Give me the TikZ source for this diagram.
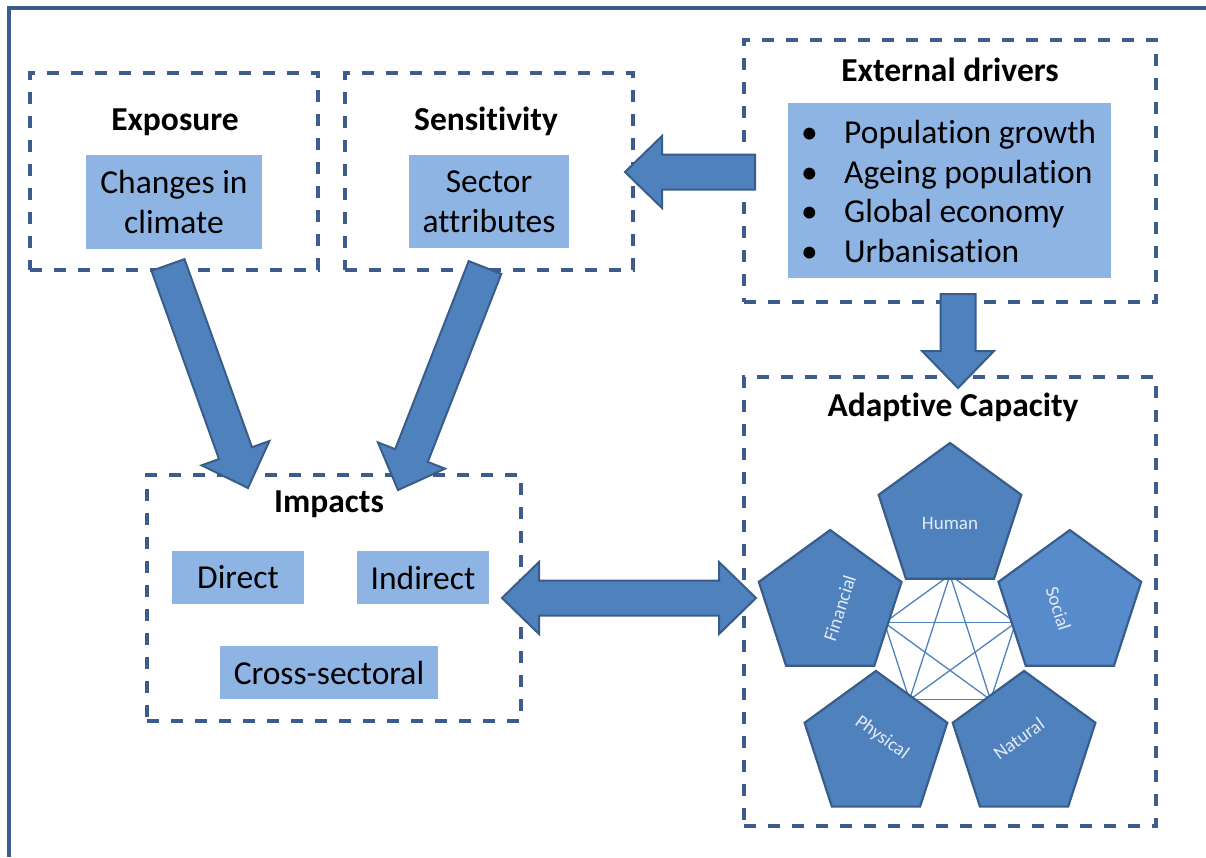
\documentclass[tikz,border=0pt]{standalone}
\usepackage{fontspec}
\setmainfont{Carlito}[Ligatures=CommonOff]
\usetikzlibrary{calc,shapes.geometric}

\definecolor{frameblue}{HTML}{3B5C8C}
\definecolor{boxblue}{HTML}{8EB4E3}
\definecolor{arrowblue}{HTML}{4F81BD}
\definecolor{arrowedge}{HTML}{385D8A}
\definecolor{socialblue}{HTML}{588BCB}
\definecolor{pentext}{HTML}{E2EAF5}

\def\shafthalf{17.5pt}
\def\headhalf{36pt}
\def\headlen{37pt}
% block arrow, tail (#1) to tip (#2)
\def\blockarrow(#1)(#2){
  \coordinate (h) at ($(#2)!\headlen!(#1)$);
  \filldraw[fatarrow] ($(#1)!\shafthalf!90:(#2)$) -- ($(h)!\shafthalf!90:(#2)$) -- ($(h)!\headhalf!90:(#2)$) -- (#2)
    -- ($(h)!\headhalf!-90:(#2)$) -- ($(h)!\shafthalf!-90:(#2)$) -- ($(#1)!\shafthalf!-90:(#2)$) -- cycle;
}
% block arrow with two heads
\def\doublearrow(#1)(#2){
  \coordinate (ha) at ($(#1)!\headlen!(#2)$);
  \coordinate (hb) at ($(#2)!\headlen!(#1)$);
  \filldraw[fatarrow] (#1) -- ($(ha)!\headhalf!90:(#2)$) -- ($(ha)!\shafthalf!90:(#2)$) -- ($(hb)!\shafthalf!90:(#2)$)
    -- ($(hb)!\headhalf!90:(#2)$) -- (#2) -- ($(hb)!\headhalf!-90:(#2)$) -- ($(hb)!\shafthalf!-90:(#2)$)
    -- ($(ha)!\shafthalf!-90:(#2)$) -- ($(ha)!\headhalf!-90:(#2)$) -- cycle;
}

\tikzset{
  dashbox/.style={draw=frameblue, line width=3.2pt, dash pattern=on 12pt off 12pt, inner sep=0pt, outer sep=0pt},
  fillbox/.style={fill=boxblue, inner sep=0pt, align=center, font=\fontsize{33.5}{39.5}\selectfont},
  heading/.style={font=\fontsize{33.5}{39.5}\selectfont\bfseries, inner sep=0pt, anchor=base},
  fatarrow/.style={fill=arrowblue, draw=arrowedge, line width=2pt, line join=miter},
  pent/.style={regular polygon, regular polygon sides=5, minimum size=150pt, inner sep=0pt,
    fill=arrowblue, draw=arrowedge, line width=2.2pt},
  pentlabel/.style={text=pentext, font=\fontsize{19}{23}\selectfont, inner sep=0pt},
  web/.style={draw=arrowblue, line width=1.3pt}
}

\begin{document}
\begin{tikzpicture}[x=1pt, y=-1pt]
		\useasboundingbox (0,0) rectangle (1206,857);
		
		%%%%% frame %%%%%
		\draw[frameblue, line width=3.5pt] (1206,8) -- (9,8) -- (9,857);
		
		%%%%% boxes %%%%%
		\node[dashbox, minimum width=288pt, minimum height=197pt] (expo) at (174,171.5) {};
		\node[dashbox, minimum width=288pt, minimum height=197pt] (sens) at (489,171.5) {};
		\node[dashbox, minimum width=412pt, minimum height=262pt] (drivers) at (950,171) {};
		\node[dashbox, minimum width=374pt, minimum height=246pt] (impacts) at (334,598) {};
		\node[dashbox, minimum width=412pt, minimum height=449pt] (adapt) at (950,601.5) {};
		
		\node[heading] (expo-title) at (175,130) {Exposure};
		\node[heading] (sens-title) at (486,130) {Sensitivity};
		\node[heading] (drivers-title) at (950,81) {External drivers};
		\node[heading] (impacts-title) at (329,512) {Impacts};
		\node[heading] (adapt-title) at (953,416) {Adaptive Capacity};
		
		\node[fillbox, minimum width=176pt, minimum height=94pt] (climate) at (174,202) {Changes in\\climate};
		\node[fillbox, minimum width=160pt, minimum height=93pt] (attrib) at (489,201.5) {Sector\\attributes};
		\node[fillbox, minimum width=323pt, minimum height=175pt] (list) at (949.5,190.5) {};
		\node[font=\fontsize{33.5}{39.5}\selectfont, align=left, anchor=west, inner sep=0pt] (list-text) at (801,191.5)
			{\makebox[43pt][l]{\textbullet}Population growth\\
			 \makebox[43pt][l]{\textbullet}Ageing population\\
			 \makebox[43pt][l]{\textbullet}Global economy\\
			 \makebox[43pt][l]{\textbullet}Urbanisation};
		\node[fillbox, minimum width=132pt, minimum height=53pt] (direct) at (238,577.5) {Direct};
		\node[fillbox, minimum width=132pt, minimum height=53pt] (indirect) at (423,577.5) {Indirect};
		\node[fillbox, minimum width=218pt, minimum height=53pt] (cross) at (329,672.5) {Cross-sectoral};
		
		%%%%% capitals %%%%%
		\coordinate (hub) at (950,644);
		\foreach \i in {0,...,4}
			\coordinate (k\i) at ($(hub)+({-90+72*\i}:69)$);
		\foreach \i/\j in {0/1,0/2,0/3,0/4,1/2,1/3,1/4,2/3,2/4,3/4}
			\draw[web] (k\i) -- (k\j);
		
		\node[pent] (human) at ($(hub)+(-90:126)$) {};
		\node[pent, fill=socialblue] (social) at ($(hub)+(-18:126)$) {};
		\node[pent] (natural) at ($(hub)+(54:126)$) {};
		\node[pent] (physical) at ($(hub)+(126:126)$) {};
		\node[pent] (financial) at ($(hub)+(198:126)$) {};
		
		\node[pentlabel] (human-txt) at ($(hub)+(-90:121)$) {Human};
		\node[pentlabel, rotate=-72] (social-txt) at ($(hub)+(-18:114)$) {Social};
		\node[pentlabel, rotate=36] (natural-txt) at ($(hub)+(54:117)$) {Natural};
		\node[pentlabel, rotate=-36] (physical-txt) at ($(hub)+(126:116)$) {Physical};
		\node[pentlabel, rotate=72] (financial-txt) at ($(hub)+(198:116)$) {Financial};
		
		%%%%% arrows %%%%%
		\coordinate (drv-tail) at ($(drivers.west)+(11,1)$);
		\coordinate (drv-tip) at ($(sens.east)+(-8,0.5)$);
		\coordinate (cap-tail) at ($(drivers.south)+(8,-8)$);
		\coordinate (cap-tip) at ($(adapt.north)+(8,11)$);
		\coordinate (expo-tail) at ($(expo.south)+(-6,-5)$);
		\coordinate (expo-tip) at ($(impacts.north)+(-86,13)$);
		\coordinate (sens-tail) at ($(sens.south)+(-4,-2.5)$);
		\coordinate (sens-tip) at ($(impacts.north)+(64,15)$);
		\coordinate (imp-end) at ($(impacts.east)+(-19,0)$);
		\coordinate (cap-end) at ($(adapt.west)+(12,-3.5)$);
		
		\blockarrow(drv-tail)(drv-tip)
		\blockarrow(cap-tail)(cap-tip)
		\blockarrow(expo-tail)(expo-tip)
		\blockarrow(sens-tail)(sens-tip)
		\doublearrow(imp-end)(cap-end)
	\end{tikzpicture}
\end{document}
